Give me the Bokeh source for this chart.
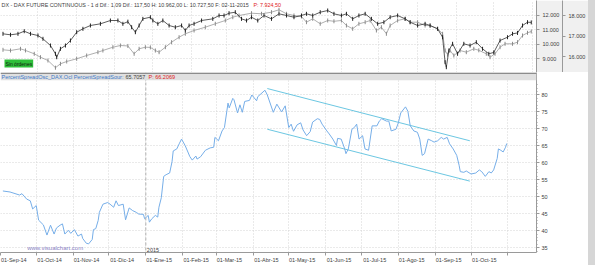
import math
import pandas as pd
from bokeh.plotting import figure
from bokeh.models import Range1d, LinearAxis, FixedTicker, Label, Span, Spacer, Grid, BoxAnnotation
from bokeh.layouts import column, row
from bokeh.embed import file_html
from bokeh.resources import INLINE

# ---------------- data ----------------
start_date = "2014-09-01"

month_starts = ["2014-09-01", "2014-10-01", "2014-11-01", "2014-12-01", "2015-01-01",
                "2015-02-01", "2015-03-01", "2015-04-01", "2015-05-01", "2015-06-01",
                "2015-07-01", "2015-08-01", "2015-09-01", "2015-10-01", "2015-11-01"]
month_labels = ["01-Sep-14", "01-Oct-14", "01-Nov-14", "01-Dic-14", "01-Ene-15",
                "01-Feb-15", "01-Mar-15", "01-Abr-15", "01-May-15", "01-Jun-15",
                "01-Jul-15", "01-Ago-15", "01-Sep-15", "01-Oct-15", ""]

osc_ticks = [35, 40, 45, 50, 55, 60, 65, 70, 75, 80]
dax_ticks = [9000, 10000, 11000, 12000]
dax_tick_labels = ["9.000", "10.000", "11.000", "12.000"]
dow_ticks = [16000, 17000, 18000]
dow_tick_labels = ["16.000", "17.000", "18.000"]

osc_dates = [
    "2014-09-03", "2014-09-09", "2014-09-17", "2014-09-19", "2014-09-23", "2014-09-26", "2014-09-28",
    "2014-10-01", "2014-10-03", "2014-10-07", "2014-10-10", "2014-10-13", "2014-10-16", "2014-10-18",
    "2014-10-21", "2014-10-23", "2014-10-25", "2014-10-28", "2014-10-30", "2014-11-02", "2014-11-05",
    "2014-11-08", "2014-11-09", "2014-11-12", "2014-11-14", "2014-11-17", "2014-11-18", "2014-11-20",
    "2014-11-22", "2014-11-23", "2014-11-26", "2014-11-30", "2014-12-02", "2014-12-05", "2014-12-07",
    "2014-12-09", "2014-12-13", "2014-12-15", "2014-12-18", "2014-12-21", "2014-12-24", "2014-12-26",
    "2014-12-30", "2014-12-31", "2015-01-03", "2015-01-04", "2015-01-06", "2015-01-09", "2015-01-11",
    "2015-01-12", "2015-01-14", "2015-01-16", "2015-01-18", "2015-01-21", "2015-01-23", "2015-01-24",
    "2015-01-27", "2015-01-29", "2015-01-31", "2015-02-03", "2015-02-07", "2015-02-09", "2015-02-12",
    "2015-02-13", "2015-02-16", "2015-02-20", "2015-02-24", "2015-02-27", "2015-02-28", "2015-03-03",
    "2015-03-06", "2015-03-08", "2015-03-11", "2015-03-12", "2015-03-15", "2015-03-16", "2015-03-19",
    "2015-03-21", "2015-03-23", "2015-03-25", "2015-03-29", "2015-03-31", "2015-04-04", "2015-04-05",
    "2015-04-11", "2015-04-13", "2015-04-18", "2015-04-21", "2015-04-25", "2015-04-28", "2015-05-01",
    "2015-05-03", "2015-05-05", "2015-05-08", "2015-05-11", "2015-05-13", "2015-05-16", "2015-05-19",
    "2015-05-21", "2015-05-25", "2015-05-27", "2015-05-29", "2015-06-02", "2015-06-04", "2015-06-07",
    "2015-06-10", "2015-06-11", "2015-06-14", "2015-06-17", "2015-06-18", "2015-06-20", "2015-06-23",
    "2015-06-25", "2015-06-27", "2015-06-29", "2015-07-02", "2015-07-04", "2015-07-07", "2015-07-10",
    "2015-07-14", "2015-07-16", "2015-07-18", "2015-07-22", "2015-07-24", "2015-07-26", "2015-07-30",
    "2015-08-01", "2015-08-03", "2015-08-07", "2015-08-09", "2015-08-11", "2015-08-14", "2015-08-17",
    "2015-08-19", "2015-08-21", "2015-08-23", "2015-08-26", "2015-08-29", "2015-08-31", "2015-09-03",
    "2015-09-06", "2015-09-08", "2015-09-11", "2015-09-13", "2015-09-16", "2015-09-19", "2015-09-21",
    "2015-09-22", "2015-09-25", "2015-09-27", "2015-10-01", "2015-10-05", "2015-10-08", "2015-10-10",
    "2015-10-13", "2015-10-16", "2015-10-18", "2015-10-20", "2015-10-23", "2015-10-24", "2015-10-26",
    "2015-10-28", "2015-10-30", "2015-10-31"]
osc_values = [
    51.7, 51.4, 50.5, 50.9, 49.3, 48.8, 46.4,
    47.4, 43.1, 41.7, 38.7, 41.6, 39.0, 40.8,
    41.6, 42.0, 39.0, 40.1, 39.2, 40.3, 38.4,
    39.0, 37.7, 36.3, 36.1, 37.4, 40.3, 40.6,
    43.0, 45.4, 47.8, 48.3, 47.8, 46.9, 48.8,
    47.4, 47.8, 43.2, 46.7, 45.9, 45.4, 44.9,
    44.8, 43.5, 44.5, 42.5, 43.5, 44.5, 44.0,
    46.9, 49.7, 56.0, 56.5, 57.0, 60.3, 63.5,
    64.1, 65.6, 67.0, 65.1, 61.8, 60.8, 62.0,
    61.1, 61.8, 63.7, 64.4, 64.6, 67.5, 66.5,
    69.4, 70.4, 77.6, 76.2, 79.0, 78.6, 74.7,
    77.1, 74.9, 78.1, 78.4, 80.0, 78.3, 79.5,
    81.4, 80.0, 74.9, 77.3, 75.0, 76.8, 70.4,
    71.4, 69.3, 71.2, 71.8, 69.7, 68.0, 69.2,
    72.0, 73.0, 72.8, 71.4, 69.4, 68.5, 67.0,
    65.1, 67.2, 67.0, 64.1, 62.7, 64.1, 69.9,
    70.4, 71.4, 67.0, 68.0, 64.1, 63.7, 70.9,
    70.9, 72.3, 73.0, 72.3, 72.3, 69.4, 69.9,
    71.8, 74.7, 76.5, 75.2, 70.9, 69.4, 69.0,
    67.0, 62.2, 62.7, 67.0, 66.5, 66.1, 66.5,
    67.5, 67.0, 67.5, 65.6, 64.1, 62.2, 59.3,
    57.4, 57.2, 57.6, 56.7, 57.0, 57.9, 57.4,
    56.0, 57.4, 57.0, 57.9, 61.3, 64.1, 63.7,
    63.2, 64.6, 65.7]

channel_dates = ["2015-04-13", "2015-09-30"]
channel_upper = [81.9, 66.5]
channel_lower = [69.9, 54.6]

dax_dates = [
    "2014-09-03", "2014-09-09", "2014-09-17", "2014-09-21", "2014-09-28", "2014-10-03", "2014-10-09",
    "2014-10-15", "2014-10-19", "2014-10-24", "2014-11-01", "2014-11-09", "2014-11-18", "2014-11-22",
    "2014-11-30", "2014-12-06", "2014-12-12", "2014-12-17", "2014-12-21", "2014-12-26", "2014-12-30",
    "2015-01-03", "2015-01-06", "2015-01-11", "2015-01-16", "2015-01-22", "2015-01-27", "2015-02-03",
    "2015-02-12", "2015-02-20", "2015-02-28", "2015-03-06", "2015-03-11", "2015-03-21", "2015-03-29",
    "2015-04-06", "2015-04-12", "2015-04-18", "2015-04-24", "2015-04-30", "2015-05-04", "2015-05-09",
    "2015-05-15", "2015-05-21", "2015-05-26", "2015-06-01", "2015-06-05", "2015-06-10", "2015-06-15",
    "2015-06-20", "2015-06-24", "2015-06-29", "2015-07-03", "2015-07-07", "2015-07-10", "2015-07-16",
    "2015-07-22", "2015-07-26", "2015-08-01", "2015-08-07", "2015-08-11", "2015-08-17", "2015-08-21",
    "2015-08-23", "2015-08-25", "2015-08-27", "2015-08-30", "2015-09-04", "2015-09-09", "2015-09-15",
    "2015-09-19", "2015-09-25", "2015-09-28", "2015-10-02", "2015-10-06", "2015-10-10", "2015-10-16",
    "2015-10-20", "2015-10-24", "2015-10-28", "2015-10-31"]
dax_close = [
    9634, 9586, 9703, 9590, 9359, 9124, 8897,
    8400, 8669, 8828, 9014, 9241, 9469, 9586,
    9814, 9931, 9900, 9359, 9703, 9814, 9800,
    9586, 9469, 9814, 10159, 10503, 10738, 10966,
    11193, 11428, 11655, 11883, 12000, 12159, 12117,
    12228, 12393, 12117, 12000, 11931, 11538, 11772,
    11428, 11655, 11600, 11655, 11310, 11083, 11428,
    11538, 11655, 10966, 11193, 10738, 11310, 11655,
    11772, 11538, 11538, 11310, 11300, 11083, 10738,
    9586, 9300, 9586, 9241, 9586, 9469, 9703,
    9600, 9359, 9124, 9359, 9814, 10048, 10048,
    10159, 10621, 10807, 10897]

dow_dates = [
    "2014-09-03", "2014-09-09", "2014-09-15", "2014-09-20", "2014-09-25", "2014-10-01", "2014-10-05",
    "2014-10-11", "2014-10-15", "2014-10-16", "2014-10-19", "2014-10-23", "2014-10-27", "2014-11-01",
    "2014-11-06", "2014-11-12", "2014-11-20", "2014-11-28", "2014-12-04", "2014-12-08", "2014-12-12",
    "2014-12-15", "2014-12-18", "2014-12-21", "2014-12-24", "2014-12-30", "2015-01-01", "2015-01-05",
    "2015-01-09", "2015-01-14", "2015-01-19", "2015-01-24", "2015-01-27", "2015-01-30", "2015-02-03",
    "2015-02-09", "2015-02-18", "2015-02-23", "2015-02-27", "2015-03-03", "2015-03-08", "2015-03-13",
    "2015-03-17", "2015-03-21", "2015-03-26", "2015-03-31", "2015-04-06", "2015-04-12", "2015-04-18",
    "2015-04-24", "2015-04-30", "2015-05-04", "2015-05-09", "2015-05-15", "2015-05-21", "2015-05-26",
    "2015-06-01", "2015-06-05", "2015-06-10", "2015-06-15", "2015-06-20", "2015-06-25", "2015-06-30",
    "2015-07-05", "2015-07-10", "2015-07-16", "2015-07-22", "2015-07-26", "2015-08-01", "2015-08-07",
    "2015-08-11", "2015-08-17", "2015-08-21", "2015-08-23", "2015-08-24", "2015-08-26", "2015-08-29",
    "2015-09-02", "2015-09-07", "2015-09-12", "2015-09-17", "2015-09-22", "2015-09-27", "2015-10-01",
    "2015-10-06", "2015-10-12", "2015-10-16", "2015-10-20", "2015-10-24", "2015-10-28", "2015-10-31"]
dow_close = [
    17107, 17059, 17107, 17234, 17107, 17024, 16863,
    16537, 16132, 15966, 16376, 16537, 16780, 17185,
    17351, 17512, 17595, 17756, 17756, 17595, 17700,
    17429, 17185, 17512, 17837, 17917, 17756, 17595,
    17756, 17512, 17429, 17512, 17268, 17512, 17595,
    17756, 17837, 18000, 18000, 18112, 18161, 17837,
    17756, 17917, 17756, 18000, 17837, 18083, 18000,
    17917, 18000, 18083, 18000, 18161, 18244, 18083,
    18000, 18083, 17837, 18000, 18083, 17837, 17595,
    17673, 17917, 18000, 17837, 17673, 17512, 17595,
    17512, 17351, 16941, 15722, 15478, 16293, 16620,
    16132, 16620, 16537, 16698, 16376, 16132, 16200,
    16780, 16941, 17107, 17150, 17512, 17673, 17663]

# ---------------- helpers ----------------
START = pd.Timestamp(start_date)


def to_days(ds):
    return [(pd.Timestamp(d) - START).days for d in ds]


month_days = to_days(month_starts)
PX_PER_DAY = 533.0 / month_days[-1]          # layout scale of the reference
top_x_end = 537.0 / PX_PER_DAY
bot_x_end = 563.0 / PX_PER_DAY

FONT = "Liberation Sans"
GRID = "#d4d4d4"
AXC = "#9a9a9a"
TXT = "#404040"


def style_axis(ax, size="5.5px"):
    ax.major_label_text_font = FONT
    ax.major_label_text_font_size = size
    ax.major_label_text_color = TXT
    ax.axis_line_color = AXC
    ax.major_tick_line_color = AXC
    ax.minor_tick_line_color = AXC
    ax.major_tick_in = 0
    ax.minor_tick_in = 0


# ---------------- top panel ----------------
TOP_W, TOP_H, BOT_H = 588, 72, 193
dax_lo, dax_hi = 8069, 13034
dow_lo, dow_hi = 15220, 18732
top = figure(width=TOP_W, height=TOP_H, output_backend="svg", toolbar_location=None,
             x_range=Range1d(0, top_x_end), y_range=Range1d(dax_lo, dax_hi),
             y_axis_location="right", x_axis_type=None,
             min_border_left=0, min_border_top=0, min_border_bottom=0, min_border_right=51,
             outline_line_color=None, background_fill_color="white",
             border_fill_color="#f0f0f0")
top.extra_y_ranges = {"dow": Range1d(dow_lo, dow_hi)}

ax_dax = top.yaxis[0]
ax_dax.ticker = FixedTicker(ticks=dax_ticks)
ax_dax.major_label_overrides = {t: l for t, l in zip(dax_ticks, dax_tick_labels)}
style_axis(ax_dax)
ax_dax.major_tick_out = 3
ax_dax.major_label_standoff = 3
ax_dax.minor_tick_out = 0

ax_dow = LinearAxis(y_range_name="dow", ticker=FixedTicker(ticks=dow_ticks))
ax_dow.major_label_overrides = {t: l for t, l in zip(dow_ticks, dow_tick_labels)}
style_axis(ax_dow)
ax_dow.major_tick_out = 3
ax_dow.major_label_standoff = 3
ax_dow.minor_tick_out = 0
top.add_layout(ax_dow, "right")

top.ygrid.grid_line_color = GRID
top.ygrid.grid_line_dash = "1 2"
top.add_layout(Grid(dimension=0, ticker=FixedTicker(ticks=month_days),
                    grid_line_color=GRID, grid_line_dash="1 2"))

dax_x = to_days(dax_dates)
dow_x = to_days(dow_dates)
top.line(dax_x, dax_close, line_color="#9a9a9a", line_width=0.8)
top.scatter(dax_x, dax_close, marker="dash", angle=math.pi / 2, size=4,
            line_color="#8a8a8a", line_width=1)
top.line(dow_x, dow_close, line_color="#333333", line_width=0.8, y_range_name="dow")
top.scatter(dow_x, dow_close, marker="dash", angle=math.pi / 2, size=4,
            line_color="#222222", line_width=1, y_range_name="dow")

top.add_layout(Label(x=0, y=dax_hi, x_offset=1, y_offset=-1, text_baseline="top",
                     text="DX - DAX FUTURE CONTINUOUS -  1 d Dif.: 1,09 Dif.: 117,50 "
                          "H: 10.962,00 L: 10.727,50 F: 02-11-2015",
                     text_font=FONT, text_font_size="5.4px", text_color=TXT))
top.add_layout(Label(x=0, y=dax_hi, x_offset=253, y_offset=-1, text_baseline="top",
                     text="P: 7.924,50", text_font=FONT, text_font_size="5.4px",
                     text_color="#e02020"))
top.add_layout(Label(x=0, y=dax_lo, x_offset=4, y_offset=9, text_baseline="middle",
                     text="Sin órdenes", text_font=FONT, text_font_size="5px",
                     text_color="#102010", background_fill_color="#2fbf3a", padding=1))
top.add_layout(Label(x=top_x_end, y=dax_close[-1], x_offset=4, text_baseline="middle",
                     text="10.897", text_font=FONT, text_font_size="5.5px", text_color="white",
                     background_fill_color="#3d8ef0", padding=1))
top.add_layout(Label(x=top_x_end, y=dow_close[-1], y_range_name="dow", x_offset=27,
                     text_baseline="middle", text="17.663,54", text_font=FONT,
                     text_font_size="5px", text_color="white",
                     background_fill_color="#111111", padding=1))

# ---------------- bottom panel (its frame top holds the pane header band) ----------------
y_lo, y_hi = 33.56, 86.63
band_lo = 84.32
bot = figure(width=TOP_W, height=BOT_H, output_backend="svg", toolbar_location=None,
             x_range=Range1d(0, bot_x_end), y_range=Range1d(y_lo, y_hi),
             y_axis_location="right",
             min_border_left=0, min_border_top=0, min_border_bottom=9, min_border_right=25,
             outline_line_color=None, background_fill_color="white",
             border_fill_color="white")

yax = bot.yaxis[0]
yax.ticker = FixedTicker(ticks=osc_ticks, minor_ticks=[v for v in range(34, 84)])
style_axis(yax)
yax.major_tick_out = 3
yax.minor_tick_out = 1
yax.major_label_standoff = 2

label_pos = [d + 14.0 / PX_PER_DAY for d in month_days]
xax = bot.xaxis[0]
xax.ticker = FixedTicker(ticks=label_pos, minor_ticks=month_days)
xax.major_label_overrides = {p: l for p, l in zip(label_pos, month_labels)}
style_axis(xax)
xax.major_tick_out = 0
xax.minor_tick_out = 3
xax.major_label_standoff = 1

bot.xgrid.ticker = FixedTicker(ticks=month_days)
bot.xgrid.grid_line_color = GRID
bot.xgrid.grid_line_dash = "1 2"
bot.ygrid.grid_line_color = GRID
bot.ygrid.grid_line_dash = "1 2"

jan1 = to_days(["2015-01-01"])[0]
bot.add_layout(Span(location=jan1, dimension="height", line_color="#b0b0b0",
                    line_dash="3 2", line_width=1))
bot.add_layout(Label(x=jan1, y=y_lo, x_offset=1, y_offset=1, text_baseline="bottom",
                     text="2015", text_font=FONT, text_font_size="5.5px", text_color=TXT))
bot.add_layout(Label(x=28 / PX_PER_DAY, y=y_lo, y_offset=2, text_baseline="bottom",
                     text="www.visualchart.com", text_font=FONT, text_font_size="6px",
                     text_color="#8a7fc4"))

ch_x = to_days(channel_dates)
bot.line(ch_x, channel_upper, line_color="#6cc7e2", line_width=1)
bot.line(ch_x, channel_lower, line_color="#6cc7e2", line_width=1)
bot.line(to_days(osc_dates), osc_values, line_color="#76aee8", line_width=1)

# header band of the lower pane
bot.add_layout(BoxAnnotation(bottom=band_lo, fill_color="#e0e0e0", fill_alpha=1,
                             line_color=None))
bot.add_layout(BoxAnnotation(bottom=y_hi - 0.45, fill_color="#8c8c8c", fill_alpha=1,
                             line_color=None))
band_mid = (band_lo + y_hi - 0.45) / 2
bot.add_layout(Label(x=0, y=band_mid, x_offset=1, text_baseline="middle",
                     text="PercentSpreadOsc_DAX.Ocl PercentSpreadSour:",
                     text_font=FONT, text_font_size="5.5px", text_color="#3b78c8"))
bot.add_layout(Label(x=0, y=band_mid, x_offset=125, text_baseline="middle",
                     text="65.7057", text_font=FONT, text_font_size="5.5px", text_color=TXT))
bot.add_layout(Label(x=0, y=band_mid, x_offset=148, text_baseline="middle",
                     text="P: 66.2069", text_font=FONT, text_font_size="5.5px",
                     text_color="#e02020"))

bot.add_layout(Label(x=bot_x_end, y=osc_values[-1], x_offset=4, text_baseline="middle",
                     text="65.71", text_font=FONT, text_font_size="5.5px", text_color="white",
                     background_fill_color="#3d8ef0", padding=1))

strip = Spacer(width=7, height=TOP_H + BOT_H, styles={"background-color": "#d6d6d6"})
layout = row(column(top, bot, spacing=0), strip, spacing=0)

with open("out.html", "w") as f:
    f.write(file_html(layout, INLINE))
